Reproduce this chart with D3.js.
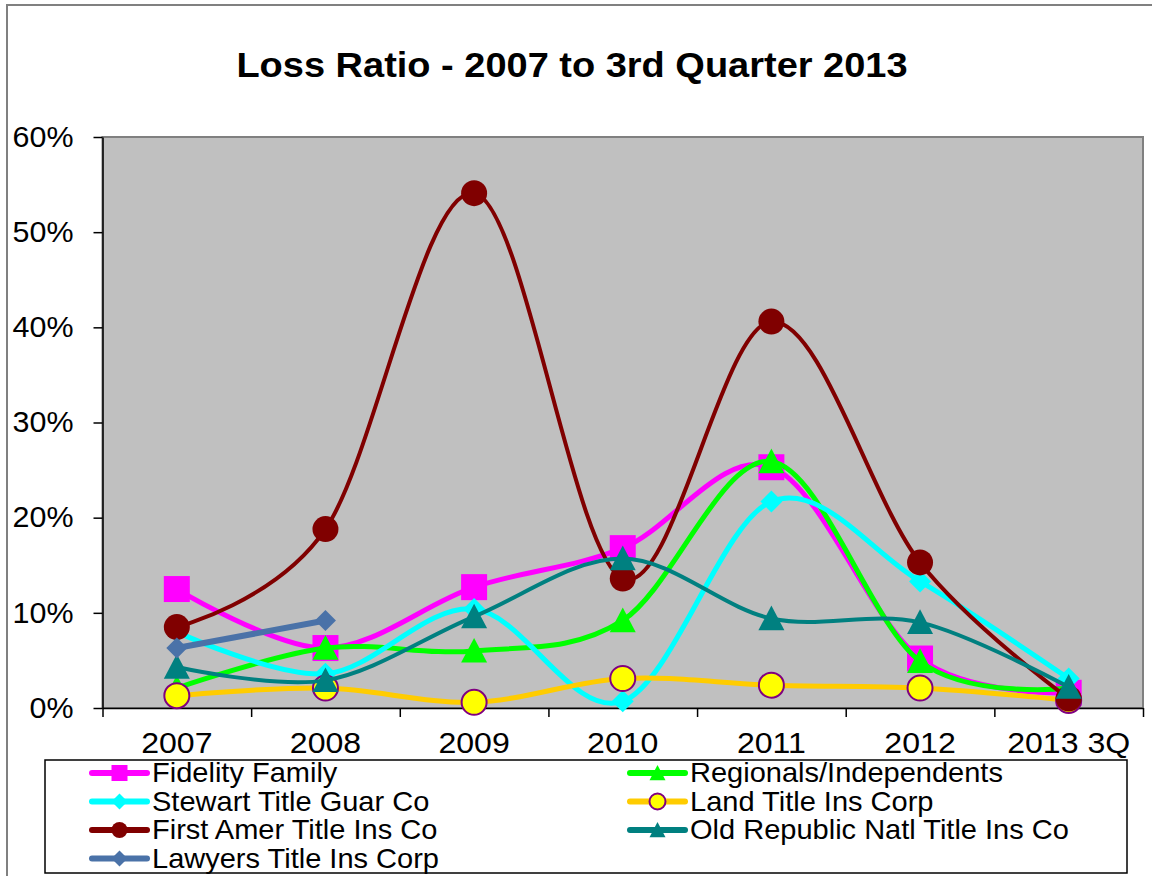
<!DOCTYPE html>
<html>
<head>
<meta charset="utf-8">
<script src="https://cdn.jsdelivr.net/npm/d3@7"></script>
<style>
  body { margin: 0; background: #fff; }
  svg { display: block; font-family: "Liberation Sans", Arial, sans-serif; }
</style>
</head>
<body>
<div id="graph"></div>
<script>
// values, in percent
const years = ["2007", "2008", "2009", "2010", "2011", "2012", "2013 3Q"];
const fidelity    = [12.5, 6.3, 12.7, 16.8, 25.3, 5.2, 1.6];
const regionals   = [2.1, 6.3, 6.0, 9.2, 25.9, 4.9, 2.1];
const stewart     = [8.0, 3.6, 10.4, 0.7, 21.7, 13.3, 3.1];
const landTitle   = [1.3, 2.1, 0.6, 3.1, 2.4, 2.1, 0.8];
const firstAmer   = [8.5, 18.8, 54.1, 13.6, 40.6, 15.3, 1.0];
const oldRepublic = [4.3, 2.9, 9.6, 15.7, 9.4, 9.0, 2.2];
const lawyers     = [6.3, 9.2];
const yTicks = [0, 10, 20, 30, 40, 50, 60];

const seriesNames = ["Fidelity Family", "Regionals/Independents", "Stewart Title Guar Co",
  "Land Title Ins Corp", "First Amer Title Ins Co", "Old Republic Natl Title Ins Co",
  "Lawyers Title Ins Corp"];

// draw order = legend order (row by row)
let series = [
  { name: seriesNames[0], values: fidelity,    line: "#ff00ff", fill: "#ff00ff", stroke: "#ff00ff", shape: "square",   size: 26, lw: 5 },
  { name: seriesNames[1], values: regionals,   line: "#00ff00", fill: "#00ff00", stroke: "#00ff00", shape: "triangle", size: 26, lw: 5 },
  { name: seriesNames[2], values: stewart,     line: "#00ffff", fill: "#00ffff", stroke: "#00ffff", shape: "diamond",  size: 22, lw: 5 },
  { name: seriesNames[3], values: landTitle,   line: "#ffcc00", fill: "#ffff00", stroke: "#800080", shape: "circle",   size: 25, lw: 5 },
  { name: seriesNames[4], values: firstAmer,   line: "#800000", fill: "#800000", stroke: "#800000", shape: "circle",   size: 26, lw: 4 },
  { name: seriesNames[5], values: oldRepublic, line: "#008080", fill: "#008080", stroke: "#008080", shape: "triangle", size: 26, lw: 4 },
  { name: seriesNames[6], values: lawyers,     line: "#4a72a8", fill: "#4a72a8", stroke: "#4a72a8", shape: "diamond",  size: 21, lw: 6 }
];

let width = 1152, height = 876;
let plot = { left: 102.5, right: 1143, top: 137, bottom: 708 };

let svg = d3.select("#graph")
  .append("svg")
  .attr("width", width)
  .attr("height", height);

// outer chart frame
svg.append("rect")
  .attr("x", 7).attr("y", 5)
  .attr("width", width).attr("height", height)
  .attr("fill", "#fff")
  .attr("stroke", "#808080")
  .attr("stroke-width", 2);

// title (the original text is a little wider than the font)
svg.append("text")
  .attr("transform", "translate(572,77) scale(1.055,1)")
  .attr("text-anchor", "middle")
  .style("font-size", "36px")
  .style("font-weight", "bold")
  .text("Loss Ratio - 2007 to 3rd Quarter 2013");

let x = d3.scaleBand()
  .domain(years)
  .range([plot.left, plot.right]);
let xEdge = d3.scaleLinear()
  .domain([0, years.length])
  .range([plot.left, plot.right]);
let y = d3.scaleLinear()
  .domain([0, 60])
  .range([plot.bottom, plot.top]);

// plot area
svg.append("rect")
  .attr("x", plot.left).attr("y", plot.top)
  .attr("width", plot.right - plot.left)
  .attr("height", plot.bottom - plot.top)
  .attr("fill", "#c0c0c0")
  .attr("stroke", "#808080")
  .attr("stroke-width", 2);

// y axis
let yAxis = svg.append("g")
  .attr("transform", "translate(" + plot.left + ",0)")
  .call(d3.axisLeft(y).tickValues(yTicks).tickSize(9).tickSizeOuter(0).tickPadding(20)
    .tickFormat(d => d + "%"));
yAxis.selectAll("text").style("font-size", "29px").attr("fill", "#000")
  .attr("transform", "translate(-29,0) scale(1.05,1) translate(29,0)");
yAxis.selectAll("line, path").attr("stroke", "#000").attr("stroke-width", 1.5);

// x axis: ticks between categories, labels in the middle
let xAxis = svg.append("g")
  .attr("transform", "translate(0," + plot.bottom + ")")
  .call(d3.axisBottom(xEdge).tickValues(d3.range(years.length + 1)).tickSize(9).tickSizeOuter(0)
    .tickFormat(""));
xAxis.selectAll("line, path").attr("stroke", "#000").attr("stroke-width", 1.5);

let xLabels = svg.append("g")
  .attr("transform", "translate(0," + plot.bottom + ")")
  .call(d3.axisBottom(x).tickSize(0).tickPadding(24));
xLabels.select(".domain").remove();
xLabels.selectAll("text").style("font-size", "30px").attr("fill", "#000")
  .attr("transform", "scale(1.07,1)");

// marker shapes
function markerPath(shape, s) {
  let h = s / 2;
  if (shape == "square") return d3.symbol(d3.symbolSquare, s * s)();
  if (shape == "circle") return d3.symbol(d3.symbolCircle, Math.PI * h * h)();
  if (shape == "diamond") return "M0," + (-h) + "L" + h + ",0L0," + h + "L" + (-h) + ",0Z";
  if (shape == "triangle") return "M0," + (-h) + "L" + h + "," + (h * 0.9) + "L" + (-h) + "," + (h * 0.9) + "Z";
}

let line = d3.line()
  .x((d, i) => x(years[i]) + x.bandwidth() / 2)
  .y(d => y(d))
  .curve(d3.curveCatmullRom.alpha(0));

series.forEach(s => {
  let g = svg.append("g");
  g.append("path")
    .attr("d", line(s.values))
    .attr("fill", "none")
    .attr("stroke", s.line)
    .attr("stroke-width", s.lw)
    .attr("stroke-linejoin", "round");
  g.selectAll(".mk")
    .data(s.values)
    .join("path")
    .attr("transform", (d, i) => "translate(" + (x(years[i]) + x.bandwidth() / 2) + "," + y(d) + ")")
    .attr("d", markerPath(s.shape, s.size))
    .attr("fill", s.fill)
    .attr("stroke", s.stroke)
    .attr("stroke-width", s.shape == "circle" && s.fill != s.stroke ? 2 : 0);
});

// legend
let legend = svg.append("g");
legend.append("rect")
  .attr("x", 45).attr("y", 760)
  .attr("width", 1082).attr("height", 113)
  .attr("fill", "#fff")
  .attr("stroke", "#000")
  .attr("stroke-width", 1.5);

let colX = [92, 630];
series.forEach((s, i) => {
  let cx = colX[i % 2];
  let cy = 773 + Math.floor(i / 2) * 28.5;
  let item = legend.append("g").attr("transform", "translate(" + cx + "," + cy + ")");
  item.append("line")
    .attr("x1", 0).attr("x2", 55)
    .attr("stroke", s.line)
    .attr("stroke-width", 6)
    .attr("stroke-linecap", "round");
  item.append("path")
    .attr("transform", "translate(27.5,0)")
    .attr("d", markerPath(s.shape, 16))
    .attr("fill", s.fill)
    .attr("stroke", s.stroke)
    .attr("stroke-width", s.shape == "circle" && s.fill != s.stroke ? 2 : 0);
  item.append("text")
    .attr("transform", "translate(60,0) scale(1.075,1)")
    .attr("dy", "0.35em")
    .style("font-size", "27px")
    .text(s.name);
});
</script>
</body>
</html>
